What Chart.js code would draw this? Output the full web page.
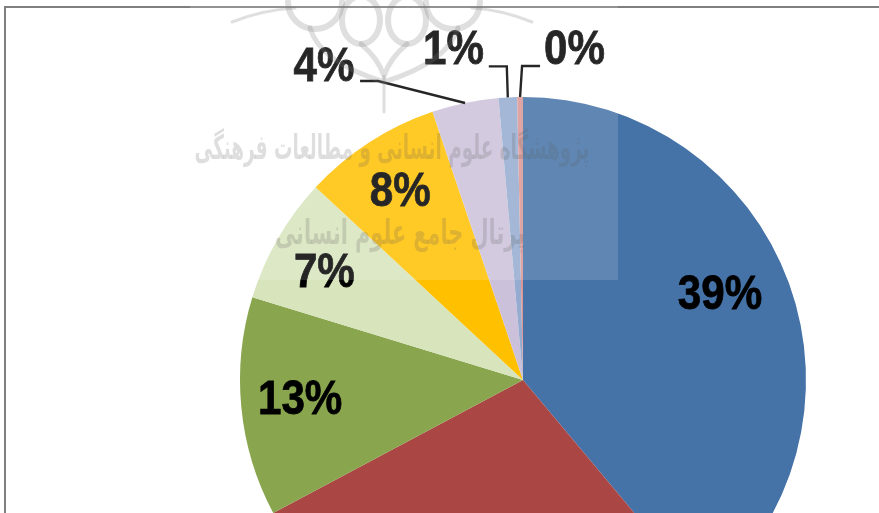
<!DOCTYPE html>
<html lang="en">
<head>
    <meta charset="UTF-8">
    <title>Pie chart</title>
    <script src="https://cdn.jsdelivr.net/npm/chart.js"></script>
    <style>
        html, body {
            margin: 0;
            height: 513px;
            overflow: hidden;
            background: #fff;
        }
        canvas {
            display: block;
        }
    </style>
</head>
<body>

<canvas id="pie" width="879" height="760"></canvas>

<script>
    // Values (percent of the pie)
    const categories = ['39%', '28%', '13%', '7%', '8%', '4%', '1%', '0%'];
    const values = [38.9, 28.3, 12.5, 7.2, 7.9, 3.8, 1.05, 0.33];
    const colors = ['#4572A7', '#AA4643', '#89A54E', '#D8E4BC', '#FFC000', '#CCC1DA', '#95ABCF', '#D99694'];

    // Label offsets from the centre point of each arc
    const labelOffsets = [[64, -36], [0, 40], [-82, 7], [-76, -36], [-46, -69], [-170, -174], [-62, -188], [53, -188]];
    // Leader lines: slice index -> elbow offset from rim, then tail length
    const leaders = { 5: [-87, -22, -18], 6: [-1, -31, -18], 7: [2, -31, 18] };
    const labelSqueeze = 0.86;

    const sliceLabels = {
        id: 'sliceLabels',
        afterDatasetsDraw(chart) {
            const ctx = chart.ctx;
            const arcs = chart.getDatasetMeta(0).data;
            ctx.save();
            ctx.fillStyle = '#000';
            ctx.strokeStyle = '#000';
            ctx.font = 'bold 49px "Liberation Sans", sans-serif';
            ctx.textAlign = 'center';
            ctx.textBaseline = 'middle';
            arcs.forEach((arc, i) => {
                const c = arc.getCenterPoint();
                // no narrow bold font here, so squeeze the text sideways
                ctx.save();
                ctx.translate(c.x + labelOffsets[i][0], c.y + labelOffsets[i][1]);
                ctx.scale(labelSqueeze, 1);
                ctx.lineWidth = 0.8;
                ctx.fillText(categories[i], 0, 0);
                ctx.strokeText(categories[i], 0, 0);
                ctx.restore();
                if (leaders[i]) {
                    const mid = (arc.startAngle + arc.endAngle) / 2;
                    const rimX = arc.x + Math.cos(mid) * arc.outerRadius;
                    const rimY = arc.y + Math.sin(mid) * arc.outerRadius;
                    const elbowX = rimX + leaders[i][0];
                    const elbowY = rimY + leaders[i][1];
                    ctx.lineWidth = 2.4;
                    ctx.beginPath();
                    ctx.moveTo(rimX, rimY);
                    ctx.lineTo(elbowX, elbowY);
                    ctx.lineTo(elbowX + leaders[i][2], elbowY);
                    ctx.stroke();
                }
            });
            ctx.restore();
        }
    };

    // Grey frame of the original chart, only top and left are in view
    const frame = {
        id: 'frame',
        beforeDraw(chart) {
            const ctx = chart.ctx;
            ctx.save();
            ctx.strokeStyle = '#7f7f7f';
            ctx.lineWidth = 2;
            ctx.beginPath();
            ctx.moveTo(5, 760);
            ctx.lineTo(5, 7);
            ctx.lineTo(879, 7);
            ctx.stroke();
            ctx.restore();
        }
    };

    // Scanned watermark sitting over the chart
    const watermark = {
        id: 'watermark',
        afterDraw(chart) {
            const ctx = chart.ctx;
            ctx.save();
            ctx.fillStyle = 'rgba(255,255,255,0.15)';
            ctx.fillRect(190, 0, 428, 280);

            // emblem, cut off by the top of the picture
            ctx.strokeStyle = 'rgba(120,120,120,0.24)';
            ctx.lineCap = 'round';
            ctx.lineWidth = 6;
            [[361, 20], [407, 20]].forEach(r => {
                ctx.beginPath();
                ctx.ellipse(r[0], r[1], 19, 24, 0, 0, Math.PI * 2);
                ctx.stroke();
            });
            [[315, 2], [453, 2]].forEach(r => {
                ctx.beginPath();
                ctx.arc(r[0], r[1], 27, 0, Math.PI);
                ctx.stroke();
            });
            ctx.lineWidth = 5;
            ctx.beginPath();
            ctx.moveTo(361, 44);
            ctx.quadraticCurveTo(378, 58, 384, 76);
            ctx.quadraticCurveTo(390, 58, 407, 44);
            ctx.moveTo(310, 28);
            ctx.quadraticCurveTo(320, 62, 384, 82);
            ctx.quadraticCurveTo(448, 62, 458, 28);
            ctx.stroke();
            ctx.lineWidth = 3;
            ctx.beginPath();
            ctx.moveTo(384, 76);
            ctx.lineTo(384, 112);
            ctx.moveTo(232, 22);
            ctx.quadraticCurveTo(262, 10, 295, 8);
            ctx.moveTo(532, 22);
            ctx.quadraticCurveTo(503, 10, 472, 8);
            ctx.stroke();

            ctx.fillStyle = 'rgba(90,90,90,0.2)';
            ctx.textAlign = 'center';
            ctx.textBaseline = 'middle';
            ctx.direction = 'rtl';
            ctx.font = 'bold 34px "DejaVu Sans", sans-serif';
            ctx.fillText('پژوهشگاه علوم انسانی و مطالعات فرهنگی', 392, 150, 395);
            ctx.fillText('پرتال جامع علوم انسانی', 400, 235, 250);
            ctx.restore();
        }
    };

    const ctx = document.getElementById('pie').getContext('2d');
    new Chart(ctx, {
        type: 'pie',
        data: {
            labels: categories,
            datasets: [{
                data: values,
                backgroundColor: colors,
                borderWidth: 0
            }]
        },
        options: {
            responsive: false,
            animation: false,
            layout: {
                padding: { left: 240, right: 73, top: 97, bottom: 97 }
            },
            plugins: {
                legend: { display: false },
                tooltip: { enabled: false }
            }
        },
        plugins: [frame, sliceLabels, watermark]
    });
</script>

</body>
</html>
